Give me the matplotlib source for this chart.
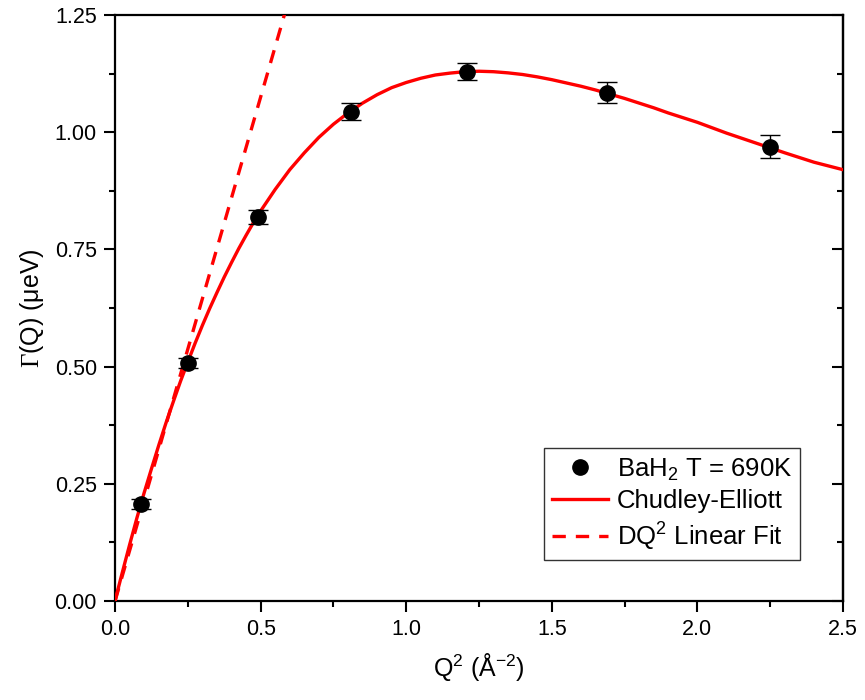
import matplotlib
matplotlib.use("Agg")
import matplotlib.pyplot as plt
from matplotlib.ticker import MultipleLocator, FormatStrFormatter

plt.rcParams["font.family"] = ["Liberation Sans", "DejaVu Sans"]
plt.rcParams["mathtext.fontset"] = "custom"
plt.rcParams["mathtext.rm"] = "Liberation Serif"
plt.rcParams["mathtext.sf"] = "Liberation Sans"

q2 = [0.09, 0.25, 0.49, 0.81, 1.21, 1.69, 2.25]
gamma = [0.207, 0.508, 0.820, 1.044, 1.129, 1.084, 0.969]
gamma_err = [0.010, 0.010, 0.015, 0.018, 0.018, 0.022, 0.024]

# %% Chudley-Elliott fit curve, sampled from the figure
ce_x = [0.0, 0.01, 0.025, 0.05, 0.075, 0.1, 0.125, 0.15, 0.175, 0.2, 0.225, 0.25,
        0.275, 0.3, 0.325, 0.35, 0.375, 0.4, 0.425, 0.45, 0.475, 0.5, 0.55, 0.6,
        0.65, 0.7, 0.75, 0.8, 0.85, 0.9, 0.95, 1.0, 1.05, 1.1, 1.15, 1.2, 1.25,
        1.3, 1.35, 1.4, 1.45, 1.5, 1.55, 1.6, 1.65, 1.7, 1.75, 1.8, 1.85, 1.9,
        1.95, 2.0, 2.1, 2.2, 2.3, 2.4, 2.5]
ce_y = [0.0, 0.025, 0.061, 0.120, 0.177, 0.231, 0.282, 0.332, 0.380, 0.425, 0.469,
        0.510, 0.550, 0.588, 0.624, 0.658, 0.691, 0.722, 0.752, 0.780, 0.807,
        0.832, 0.878, 0.920, 0.956, 0.989, 1.017, 1.041, 1.062, 1.080, 1.095,
        1.106, 1.115, 1.122, 1.126, 1.129, 1.130, 1.129, 1.1265, 1.123, 1.118,
        1.112, 1.105, 1.098, 1.090, 1.081, 1.072, 1.062, 1.052, 1.041, 1.031,
        1.021, 0.998, 0.977, 0.956, 0.936, 0.920]

# %% DQ^2 linear fit, end points
dq_x = [0.0, 0.6]
dq_y = [0.0, 1.29]

fg = plt.figure(figsize=(8.65, 7.0), dpi=100)
ax = fg.add_axes([0.133, 0.1414, 0.8416, 0.8372])

ax.errorbar(q2, gamma, yerr=gamma_err, fmt="none", ecolor="black",
            elinewidth=1.0, capsize=7, capthick=1.0, zorder=4)
ax.plot(q2, gamma, "o", color="black", markersize=11, zorder=5,
        label=r"BaH$_\mathsf{2}$ T = 690K")
ax.plot(ce_x, ce_y, color="red", lw=2.4, label="Chudley-Elliott", zorder=3)
ax.plot(dq_x, dq_y, color="red", lw=2.4, linestyle=(0, (4, 3)),
        label=r"DQ$^\mathsf{2}$ Linear Fit", zorder=3)

ax.set_xlim(0, 2.5)
ax.set_ylim(0, 1.25)
ax.xaxis.set_major_locator(MultipleLocator(0.5))
ax.xaxis.set_minor_locator(MultipleLocator(0.25))
ax.yaxis.set_major_locator(MultipleLocator(0.25))
ax.yaxis.set_minor_locator(MultipleLocator(0.125))
ax.xaxis.set_major_formatter(FormatStrFormatter("%.1f"))
ax.yaxis.set_major_formatter(FormatStrFormatter("%.2f"))

ax.tick_params(which="both", direction="out", width=1.5, labelsize=15.5,
               left=True, bottom=True, top=False, right=False)
ax.tick_params(which="major", length=8, pad=5)
ax.tick_params(which="minor", length=4.5)
for s in ax.spines.values():
    s.set_linewidth(1.6)

# inward ticks on right side, no labels
rax = ax.secondary_yaxis("right")
rax.yaxis.set_major_locator(MultipleLocator(0.25))
rax.yaxis.set_minor_locator(MultipleLocator(0.125))
rax.tick_params(which="both", direction="in", width=1.5, labelright=False)
rax.tick_params(which="major", length=8)
rax.tick_params(which="minor", length=4.5)
rax.spines["right"].set_linewidth(1.6)

ax.set_xlabel(r"Q$^\mathsf{2}$ (Å$^\mathsf{-2}$)", fontsize=18, labelpad=8)
ax.set_ylabel(r"$\Gamma$(Q) (μeV)", fontsize=18, labelpad=6)

leg = ax.legend(loc="lower right", bbox_to_anchor=(0.941, 0.07), borderaxespad=0,
                fontsize=18.5, frameon=True, fancybox=False, edgecolor="black",
                handlelength=2.2, handletextpad=0.35, labelspacing=0.25,
                borderpad=0.3)
leg.get_frame().set_linewidth(1.0)

fg.savefig("out.png", dpi=100)
